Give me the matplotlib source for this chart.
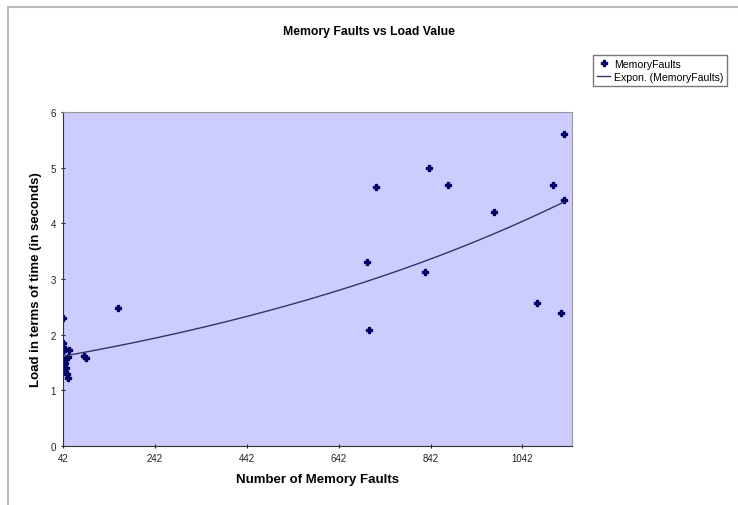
import numpy as np
import matplotlib
matplotlib.use("Agg")
import matplotlib.pyplot as plt
from matplotlib.patches import Rectangle

plt.rcParams["font.family"] = ["Liberation Sans", "DejaVu Sans"]

# memory faults (x) vs load time in seconds (y)
faults = [42, 42, 42, 43, 44, 45, 46, 47, 48, 50, 52, 53, 55, 88, 92,
          162, 704, 708, 724, 830, 839, 880, 980, 1073, 1109, 1127, 1132, 1133]
load = [2.30, 1.85, 1.45, 1.70, 1.55, 1.35, 1.50, 1.75, 1.40, 1.30, 1.60, 1.22, 1.72,
        1.62, 1.58, 2.48, 3.31, 2.08, 4.66, 3.13, 4.99, 4.69, 4.21, 2.57, 4.69, 2.39, 4.42, 5.60]

x_ticks = [42, 242, 442, 642, 842, 1042]

x = np.array(faults, dtype=float)
y = np.array(load, dtype=float)

# exponential trendline, least squares on ln(y)
b, ln_a = np.polyfit(x, np.log(y), 1)
xs = np.linspace(x.min(), x.max(), 200)
ys = np.exp(ln_a) * np.exp(b * xs)

fig = plt.figure(figsize=(7.38, 5.06), dpi=100)
ax = fig.add_axes([63 / 738, 1 - 447 / 506, (572 - 63) / 738, (447 - 113) / 506])
ax.set_facecolor("#ccccff")

ax.plot(x, y, linestyle="none", marker="P", ms=3.8, color="#000066", label="MemoryFaults")
ax.plot(xs, ys, color="#333366", lw=1.0, label="Expon. (MemoryFaults)")

ax.set_xlim(42, 1150)
ax.set_ylim(0, 6)
ax.set_xticks(x_ticks)
ax.set_yticks(range(7))
ax.tick_params(labelsize=7, length=3, direction="inout", width=0.8, colors="#222222")
for side in ("left", "bottom"):
    ax.spines[side].set_color("#333333")
for side in ("right", "top"):
    ax.spines[side].set_color("#999999")

ax.set_xlabel("Number of Memory Faults", fontsize=9.5, fontweight="bold", labelpad=7)
ax.set_ylabel("Load in terms of time (in seconds)", fontsize=9.5, fontweight="bold", labelpad=6)
fig.text(0.5, 1 - 32 / 506, "Memory Faults vs Load Value", fontsize=8.8, fontweight="bold",
         ha="center", va="center")

fig.legend(loc="upper left", bbox_to_anchor=(593 / 738, 1 - 56 / 506), fontsize=7.6,
           frameon=True, fancybox=False, edgecolor="#555555", handlelength=1.3,
           borderpad=0.35, labelspacing=0.3, handletextpad=0.35, borderaxespad=0)

# chart area border
fig.patches.append(Rectangle((8 / 738, -0.1), 1.2, 1 - 8 / 506 + 0.1, transform=fig.transFigure,
                             fill=False, edgecolor="#bbbbbb", lw=1.5))

fig.savefig("out.png", dpi=100)
